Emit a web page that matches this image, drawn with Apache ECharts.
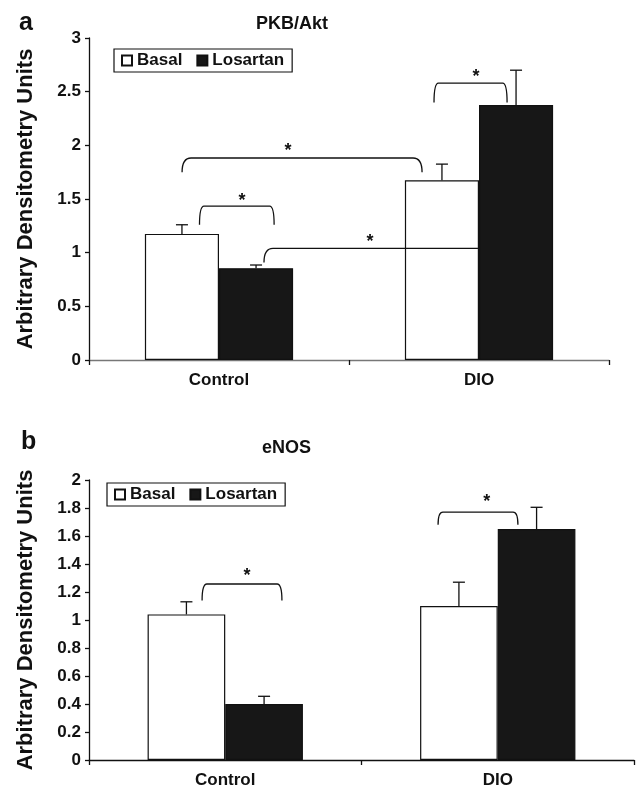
<!DOCTYPE html>
<html>
<head>
<meta charset="utf-8">
<script src="https://cdn.jsdelivr.net/npm/echarts@6/dist/echarts.min.js"></script>
<style>
html,body{margin:0;padding:0;background:#fff;}
#c{width:636px;height:790px;}
</style>
</head>
<body>
<div id="c"></div>
<script>
// ---------- data ----------
const categories = ['Control', 'DIO'];
const seriesNames = ['Basal', 'Losartan'];

// Panel a: PKB/Akt
const pkbBasal = [1.175, 1.675];
const pkbBasalErr = [0.085, 0.15];
const pkbLosartan = [0.855, 2.375];
const pkbLosartanErr = [0.03, 0.325];
// brackets: [x1, x2, yTop, yLegLeft, yLegRight] on a 0..2 helper axis
const pkbBrackets = [
  [0.425, 0.712, 1.434, 1.26, 1.26],
  [0.358, 1.281, 1.882, 1.75, 1.75],
  [0.673, 1.496, 1.04, 0.908, 1.04],
  [1.327, 1.608, 2.58, 2.40, 2.40]
];
const pkbStars = [[0.588, 1.52], [0.765, 1.985], [1.081, 1.14], [1.488, 2.674]];

// Panel b: eNOS
const enosBasal = [1.04, 1.10];
const enosBasalErr = [0.09, 0.17];
const enosLosartan = [0.40, 1.65];
const enosLosartanErr = [0.055, 0.155];
const enosBrackets = [
  [0.415, 0.708, 1.257, 1.14, 1.14],
  [1.281, 1.574, 1.77, 1.68, 1.68]
];
const enosStars = [[0.58, 1.34], [1.46, 1.87]];

// ---------- chart ----------
const FONT = '"Liberation Sans", Arial, Helvetica, sans-serif';
const chart = echarts.init(document.getElementById('c'), null, {renderer: 'canvas'});
const GAP = 0.43;
const basalStyle = {color: '#ffffff', borderColor: '#111', borderWidth: 1.2};
const losStyle = {color: '#171717', borderColor: '#111', borderWidth: 1.2};

function errSeries(name, grid, means, errs, side) {
  return {
    type: 'custom', name: name + ' err', xAxisIndex: grid * 2, yAxisIndex: grid,
    silent: true, z: 5,
    data: means.map((m, i) => [i, m, errs[i]]),
    renderItem: function (params, api) {
      const band = api.size([1, 0])[0];
      const barW = band * (1 - GAP) / 2;
      const base = api.coord([api.value(0), api.value(1)]);
      const top = api.coord([api.value(0), api.value(1) + api.value(2)]);
      const cx = base[0] + side * barW / 2;
      const st = {stroke: '#111', lineWidth: 1.3};
      return {type: 'group', children: [
        {type: 'line', shape: {x1: cx, y1: base[1], x2: cx, y2: top[1]}, style: st},
        {type: 'line', shape: {x1: cx - 6, y1: top[1], x2: cx + 6, y2: top[1]}, style: st}
      ]};
    }
  };
}

function bracketSeries(grid, data) {
  return {
    type: 'custom', xAxisIndex: grid * 2 + 1, yAxisIndex: grid, silent: true, z: 6,
    data: data,
    renderItem: function (params, api) {
      const a = api.coord([api.value(0), api.value(3)]);
      const t1 = api.coord([api.value(0), api.value(2)]);
      const t2 = api.coord([api.value(1), api.value(2)]);
      const b = api.coord([api.value(1), api.value(4)]);
      const w = t2[0] - t1[0];
      const r = Math.min(9, w * 0.06);
      const rl = Math.min(r, Math.abs(a[1] - t1[1]));
      const rr = Math.min(r, Math.abs(b[1] - t2[1]));
      let d = 'M' + a[0] + ',' + a[1] +
        ' Q' + t1[0] + ',' + t1[1] + ' ' + (t1[0] + rl) + ',' + t1[1] +
        ' L' + (t2[0] - rr) + ',' + t2[1];
      if (rr > 0) d += ' Q' + t2[0] + ',' + t2[1] + ' ' + b[0] + ',' + b[1];
      return {type: 'path', shape: {pathData: d}, style: {fill: null, stroke: '#111', lineWidth: 1.3}};
    }
  };
}

function starSeries(grid, data) {
  return {
    type: 'custom', xAxisIndex: grid * 2 + 1, yAxisIndex: grid, silent: true, z: 7,
    data: data,
    renderItem: function (params, api) {
      const p = api.coord([api.value(0), api.value(1)]);
      return {type: 'text', x: p[0], y: p[1] + 4, style: {
        text: '*', fill: '#111', font: 'bold 18px ' + FONT, align: 'center', verticalAlign: 'middle'}};
    }
  };
}

function barSeries(name, grid, vals, style) {
  return {
    type: 'bar', name: name, xAxisIndex: grid * 2, yAxisIndex: grid,
    data: vals, barGap: '0%', barCategoryGap: (GAP * 100) + '%',
    itemStyle: style, z: 3
  };
}

const grids = [
  {left: 89, top: 38, width: 520, height: 322},
  {left: 89, top: 480, width: 545, height: 280}
];

function xCat(grid, lineColor) {
  return {
    type: 'category', gridIndex: grid, data: categories,
    axisLine: {lineStyle: {color: lineColor, width: 1.3}},
    axisTick: {show: true, length: 5, lineStyle: {color: '#111', width: 1.3}},
    axisLabel: {color: '#111', fontFamily: FONT, fontWeight: 'bold', fontSize: 17, margin: 12}
  };
}
function xHelp(grid) {
  return {type: 'value', gridIndex: grid, min: 0, max: 2, show: false};
}
function yAx(grid, max, interval) {
  return {
    type: 'value', gridIndex: grid, min: 0, max: max, interval: interval,
    name: 'Arbitrary Densitometry Units', nameLocation: 'middle', nameGap: 52,
    nameTextStyle: {color: '#111', fontFamily: FONT, fontWeight: 'bold', fontSize: 22},
    axisLine: {show: true, lineStyle: {color: '#111', width: 1.3}},
    axisTick: {show: true, length: 4, lineStyle: {color: '#111', width: 1.3}},
    axisLabel: {color: '#111', fontFamily: FONT, fontWeight: 'bold', fontSize: 17, margin: 8},
    splitLine: {show: false}
  };
}

function legendFor(left, top) {
  return {
    data: seriesNames, left: left, top: top, orient: 'horizontal',
    icon: 'rect', itemWidth: 10, itemHeight: 10, itemGap: 14,
    padding: [3, 8, 3, 7], borderColor: '#111', borderWidth: 1.2, backgroundColor: '#fff',
    selectedMode: false,
    textStyle: {color: '#111', fontFamily: FONT, fontWeight: 'bold', fontSize: 17}
  };
}

const option = {
  animation: false,
  backgroundColor: '#fff',
  title: [
    {text: 'a', left: 19, top: 11, padding: 0, textStyle: {fontFamily: FONT, fontWeight: 'bold', fontSize: 25, color: '#111'}},
    {text: 'PKB/Akt', left: 256, top: 15, padding: 0, textStyle: {fontFamily: FONT, fontWeight: 'bold', fontSize: 18, color: '#111'}},
    {text: 'b', left: 21, top: 430, padding: 0, textStyle: {fontFamily: FONT, fontWeight: 'bold', fontSize: 25, color: '#111'}},
    {text: 'eNOS', left: 262, top: 439, padding: 0, textStyle: {fontFamily: FONT, fontWeight: 'bold', fontSize: 18, color: '#111'}}
  ],
  legend: [legendFor(114, 49), legendFor(107, 483)],
  grid: grids,
  xAxis: [xCat(0, '#777'), xHelp(0), xCat(1, '#111'), xHelp(1)],
  yAxis: [yAx(0, 3, 0.5), yAx(1, 2, 0.2)],
  series: [
    barSeries('Basal', 0, pkbBasal, basalStyle),
    barSeries('Losartan', 0, pkbLosartan, losStyle),
    errSeries('Basal', 0, pkbBasal, pkbBasalErr, -1),
    errSeries('Losartan', 0, pkbLosartan, pkbLosartanErr, 1),
    bracketSeries(0, pkbBrackets),
    starSeries(0, pkbStars),
    barSeries('Basal', 1, enosBasal, basalStyle),
    barSeries('Losartan', 1, enosLosartan, losStyle),
    errSeries('Basal', 1, enosBasal, enosBasalErr, -1),
    errSeries('Losartan', 1, enosLosartan, enosLosartanErr, 1),
    bracketSeries(1, enosBrackets),
    starSeries(1, enosStars)
  ]
};
chart.setOption(option);
</script>
</body>
</html>
